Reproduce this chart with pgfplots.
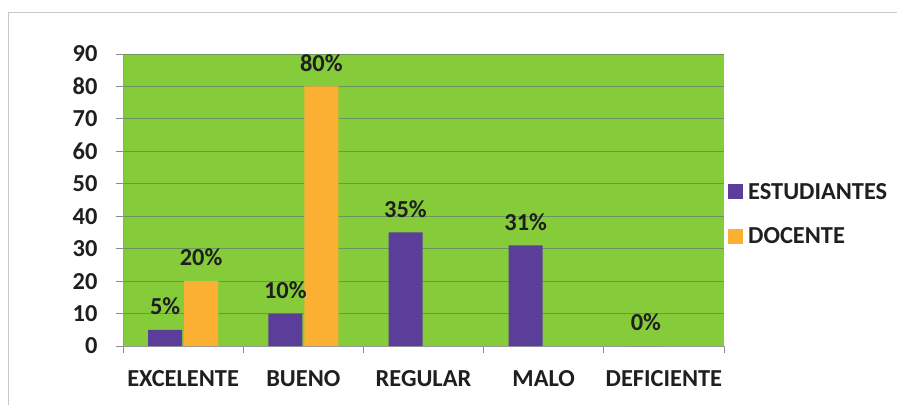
\documentclass[border=0pt]{standalone}
\usepackage{fontspec}
\setmainfont{Carlito}
\usepackage{pgfplots}
\pgfplotsset{compat=1.18}
\definecolor{bggreen}{HTML}{86CB3A}
\definecolor{gridc}{HTML}{6A9458}
\definecolor{estc}{HTML}{5A3E9A}
\definecolor{docc}{HTML}{FBB034}
\begin{document}
\begin{tikzpicture}[x=1bp,y=1bp]
\useasboundingbox (0,0) rectangle (897,405);
\draw[black!22, line width=1bp] (897,392) -- (8.5,392) -- (8.5,0);
\begin{axis}[
  at={(123bp,59bp)}, anchor=south west,
  scale only axis, width=601bp, height=292bp,
  ybar, bar width=34bp,
  xmin=-0.5, xmax=4.5, ymin=0, ymax=90,
  ytick={0,10,...,90},
  xtick={0,1,2,3,4},
  xticklabels={EXCELENTE,BUENO,REGULAR,MALO,DEFICIENTE},
  minor xtick={-0.5,0.5,...,4.5},
  major x tick style={draw=none},
  tick align=outside,
  major tick length=7bp, minor tick length=7bp,
  tick style={black!45, line width=0.8bp},
  axis x line*=bottom, axis y line*=left,
  axis line style={black!40, line width=0.8bp, -},
  axis background/.style={fill=bggreen},
  ymajorgrids, grid style={gridc, line width=0.8bp},
  /pgf/number format/assume math mode=true,
  ticklabel style={font=\bfseries\fontsize{24.5}{27}\selectfont, text=black!88},
  yticklabel style={xshift=-15bp},
  xticklabel style={yshift=-14bp},
  nodes near coords={\pgfmathprintnumber{\pgfplotspointmeta}\%},
  every node near coord/.append style={font=\bfseries\fontsize{24.5}{27}\selectfont, text=black!88, inner sep=0pt, yshift=15bp},
  legend style={at={(1,0.452)}, anchor=west, xshift=1bp, draw=none, fill=none,
    font=\bfseries\fontsize{24.5}{27}\selectfont, text=black!88, row sep=23bp,
    nodes={inner sep=2bp},
    /tikz/every odd column/.append style={column sep=3bp}},
  legend cell align=left,
  legend image code/.code={\fill[#1,draw=none] (0bp,-7.5bp) rectangle (15bp,7.5bp);},
]
\addplot[fill=estc, draw=none] coordinates {(0,5) (1,10) (2,35) (3,31) (4,0)};
\addplot[fill=docc, draw=none] coordinates {(0,20) (1,80)};
\legend{ESTUDIANTES,DOCENTE}
\end{axis}
\end{tikzpicture}
\end{document}
